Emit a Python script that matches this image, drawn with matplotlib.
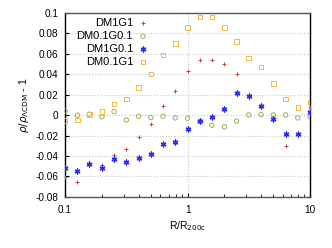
import numpy as np
import matplotlib
matplotlib.use("Agg")
import matplotlib.pyplot as plt
from matplotlib.ticker import NullFormatter

# radius bins R/R200c
r = [0.1, 0.126, 0.158, 0.2, 0.251, 0.316, 0.398, 0.501, 0.631, 0.794,
     1.0, 1.26, 1.58, 2.0, 2.51, 3.16, 3.98, 5.01, 6.31, 7.94, 10.0]

dm1g1 = [-0.061, -0.0657, -0.048, -0.0484, -0.039, -0.0334, -0.021, -0.0083, 0.0093, 0.0237,
         0.0432, 0.0537, 0.0537, 0.0501, 0.0406, 0.019, 0.0093, -0.003, -0.0298, -0.018, 0.0077]
dm01g01 = [0.0041, -0.0001, 0.0009, -0.0015, 0.0034, -0.0047, -0.0011, -0.0024, -0.0011, -0.0027,
           -0.003, -0.006, -0.0099, -0.0115, -0.0057, 0.0002, 0.0005, 0.0002, 0.0002, -0.0027, -0.0015]
dm1g01 = [-0.052, -0.0549, -0.048, -0.052, -0.0425, -0.046, -0.0416, -0.038, -0.0279, -0.0265,
          -0.0138, -0.0057, -0.0018, 0.0061, 0.022, 0.0188, 0.0093, -0.0037, -0.0184, -0.0184, 0.0028]
dm01g1 = [-0.0054, -0.0047, 0.0009, 0.0038, 0.0107, 0.0159, 0.0273, 0.0403, 0.0589, 0.0703,
          0.086, 0.0958, 0.0958, 0.086, 0.0723, 0.0557, 0.0472, 0.0308, 0.0159, 0.0077, 0.0126]

yticks = [-0.08, -0.06, -0.04, -0.02, 0, 0.02, 0.04, 0.06, 0.08, 0.1]
ylabels = ["-0.08", "-0.06", "-0.04", "-0.02", "0", "0.02", "0.04", "0.06", "0.08", "0.1"]

plt.rcParams["font.family"] = ["Liberation Sans", "DejaVu Sans"]
plt.rcParams["font.size"] = 7.5
plt.rcParams["mathtext.fontset"] = "dejavusans"

fig = plt.figure(figsize=(3.32, 2.48), dpi=100)
ax = fig.add_axes([0.196, 0.206, 0.738, 0.742])

ax.scatter(r, dm1g1, marker="+", s=12, color="#bb4a40", linewidths=0.7, label="DM1G1", zorder=3)
ax.scatter(r, dm01g01, marker="o", s=10, facecolors="none", edgecolors="#8db852", linewidths=0.7,
           label="DM0.1G0.1", zorder=3)
ax.scatter(r, dm1g01, marker=(6, 2, 0), s=12, color="#2a2af5", linewidths=1.0, label="DM1G0.1", zorder=4)
ax.scatter(r, dm01g1, marker="s", s=11, facecolors="none", edgecolors="#f6b845", linewidths=0.7,
           label="DM0.1G1", zorder=3)

ax.set_xscale("log")
ax.set_xlim(0.1, 10)
ax.set_ylim(-0.08, 0.1)
ax.set_xticks([0.1, 1, 10])
ax.set_xticklabels(["0.1", "1", "10"])
ax.xaxis.set_minor_formatter(NullFormatter())
ax.set_yticks(yticks)
ax.set_yticklabels(ylabels)
ax.tick_params(direction="in", which="both", length=3, labelsize=7.2)
ax.tick_params(axis="y", pad=5)
ax.tick_params(axis="x", pad=6)
ax.tick_params(which="minor", length=2)

ax.grid(True, which="major", linestyle=":", color="#c8c8c8", linewidth=0.8)
for s in ax.spines.values():
    s.set_linewidth(1.0)
ax.spines["top"].set_color("#555555")
ax.spines["bottom"].set_color("#555555")

ax.set_xlabel(r"R/R$_{\mathrm{200c}}$", labelpad=3)
ax.set_ylabel(r"$\rho/\rho_{\Lambda\mathrm{CDM}}$ - 1", labelpad=3)

ax.legend(loc="upper right", frameon=False, markerfirst=False, handletextpad=0.4,
          handlelength=1.0, labelspacing=0.26, borderpad=0, borderaxespad=0,
          bbox_to_anchor=(0.341, 0.97), fontsize=8)

fig.savefig("out.png", dpi=100)
